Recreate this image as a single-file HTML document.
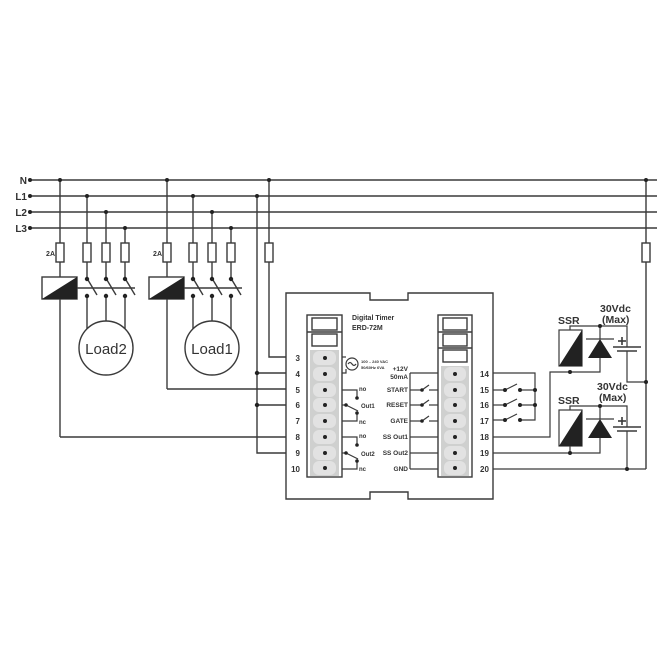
<!DOCTYPE html>
<html><head><meta charset="utf-8"><style>
html,body{margin:0;padding:0;background:#fff;}
svg{display:block;}
text{font-family:"Liberation Sans",sans-serif;fill:#333;font-weight:bold;}
</style></head><body>
<svg width="670" height="670" viewBox="0 0 670 670" xmlns="http://www.w3.org/2000/svg">
<g stroke="#3a3a3a" stroke-width="1.4" fill="none">
<!-- bus -->
<line x1="30" y1="180" x2="657" y2="180"/>
<line x1="30" y1="196" x2="657" y2="196"/>
<line x1="30" y1="212" x2="657" y2="212"/>
<line x1="30" y1="228" x2="657" y2="228"/>
<!-- contactor 2 -->
<line x1="60" y1="180" x2="60" y2="277"/>
<line x1="60" y1="299" x2="60" y2="437"/>
<line x1="60" y1="437" x2="286" y2="437"/>
<line x1="87" y1="196" x2="87" y2="279"/>
<line x1="106" y1="212" x2="106" y2="279"/>
<line x1="125" y1="228" x2="125" y2="279"/>
<rect x="42" y="277" width="35" height="22" fill="#fff"/>
<line x1="77" y1="288" x2="135" y2="288"/>
<line x1="88" y1="280" x2="97" y2="295"/>
<line x1="107" y1="280" x2="116" y2="295"/>
<line x1="126" y1="280" x2="135" y2="295"/>
<line x1="87" y1="296" x2="87" y2="338"/>
<line x1="106" y1="296" x2="106" y2="321"/>
<line x1="125" y1="296" x2="125" y2="338"/>
<circle cx="106" cy="348" r="27" fill="#fff"/>
<!-- contactor 1 -->
<line x1="167" y1="180" x2="167" y2="277"/>
<line x1="167" y1="299" x2="167" y2="389"/>
<line x1="167" y1="389" x2="286" y2="389"/>
<line x1="193" y1="196" x2="193" y2="279"/>
<line x1="212" y1="212" x2="212" y2="279"/>
<line x1="231" y1="228" x2="231" y2="279"/>
<rect x="149" y="277" width="35" height="22" fill="#fff"/>
<line x1="184" y1="288" x2="242" y2="288"/>
<line x1="194" y1="280" x2="203" y2="295"/>
<line x1="213" y1="280" x2="222" y2="295"/>
<line x1="232" y1="280" x2="241" y2="295"/>
<line x1="193" y1="296" x2="193" y2="338"/>
<line x1="212" y1="296" x2="212" y2="321"/>
<line x1="231" y1="296" x2="231" y2="338"/>
<circle cx="212" cy="348" r="27" fill="#fff"/>
<!-- L1 to terminals 4,6,9 -->
<polyline points="257,196 257,453 286,453"/>
<line x1="257" y1="373" x2="286" y2="373"/>
<line x1="257" y1="405" x2="286" y2="405"/>
<!-- N to terminal 3 -->
<polyline points="269,180 269,357 286,357"/>
<!-- fuses -->
<g fill="#fff">
<rect x="56" y="243" width="8" height="19"/><rect x="83" y="243" width="8" height="19"/><rect x="102" y="243" width="8" height="19"/><rect x="121" y="243" width="8" height="19"/>
<rect x="163" y="243" width="8" height="19"/><rect x="189" y="243" width="8" height="19"/><rect x="208" y="243" width="8" height="19"/><rect x="227" y="243" width="8" height="19"/>
<rect x="265" y="243" width="8" height="19"/>
</g>
<!-- right vertical -->
<line x1="646" y1="180" x2="646" y2="469"/>
<rect x="642" y="243" width="8" height="19" fill="#fff"/>
<!-- box -->
<path d="M286,293 H370 V300 H408 V293 H493 V499 H408 V492 H370 V499 H286 Z"/>
<!-- left terminal block -->
<rect x="307" y="315" width="35" height="162"/>
<rect x="312" y="318" width="25" height="12"/><rect x="312" y="334" width="25" height="12"/>
<line x1="307" y1="332" x2="342" y2="332"/>
<rect x="438" y="315" width="34" height="162"/>
<rect x="443" y="318" width="24" height="12"/><rect x="443" y="334" width="24" height="12"/><rect x="443" y="350" width="24" height="12"/>
<line x1="438" y1="332" x2="472" y2="332"/><line x1="438" y1="348" x2="472" y2="348"/>
</g>
<!-- grey terminals -->
<g fill="#cfd0cf">
<rect x="310" y="350" width="29" height="126"/>
<rect x="441" y="366" width="28" height="110"/>
</g>
<g fill="#e2e2e2">
<rect x="313" y="351" width="23" height="14" rx="6"/><rect x="313" y="367" width="23" height="14" rx="6"/><rect x="313" y="383" width="23" height="14" rx="6"/><rect x="313" y="398" width="23" height="14" rx="6"/><rect x="313" y="414" width="23" height="14" rx="6"/><rect x="313" y="430" width="23" height="14" rx="6"/><rect x="313" y="446" width="23" height="14" rx="6"/><rect x="313" y="461" width="23" height="14" rx="6"/>
<rect x="444" y="367" width="22" height="14" rx="6"/><rect x="444" y="383" width="22" height="14" rx="6"/><rect x="444" y="398" width="22" height="14" rx="6"/><rect x="444" y="414" width="22" height="14" rx="6"/><rect x="444" y="430" width="22" height="14" rx="6"/><rect x="444" y="446" width="22" height="14" rx="6"/><rect x="444" y="461" width="22" height="14" rx="6"/>
</g>
<g fill="#222">
<circle cx="325" cy="358" r="2"/><circle cx="325" cy="374" r="2"/><circle cx="325" cy="390" r="2"/><circle cx="325" cy="405" r="2"/><circle cx="325" cy="421" r="2"/><circle cx="325" cy="437" r="2"/><circle cx="325" cy="453" r="2"/><circle cx="325" cy="468" r="2"/>
<circle cx="455" cy="374" r="2"/><circle cx="455" cy="390" r="2"/><circle cx="455" cy="405" r="2"/><circle cx="455" cy="421" r="2"/><circle cx="455" cy="437" r="2"/><circle cx="455" cy="453" r="2"/><circle cx="455" cy="468" r="2"/>
</g>
<g stroke="#3a3a3a" stroke-width="1.2" fill="none">
<!-- AC -->
<polyline points="342,357 346,357"/>
<circle cx="352" cy="364" r="6" fill="#fff"/>
<path d="M348,364 q2,-3 4,0 q2,3 4,0"/>
<polyline points="342,373 346,373 346,369"/>
<!-- Out1 -->
<polyline points="342,390 357,390 357,398"/>
<line x1="342" y1="405" x2="346" y2="405"/><line x1="346" y1="405" x2="358" y2="411"/>
<polyline points="342,421 357,421 357,413"/>
<!-- Out2 -->
<polyline points="342,437 357,437 357,445"/>
<line x1="342" y1="453" x2="346" y2="453"/><line x1="346" y1="453" x2="358" y2="459"/>
<polyline points="342,469 357,469 357,461"/>
<!-- right inner -->
<line x1="410" y1="373" x2="410" y2="469"/>
<line x1="410" y1="373" x2="438" y2="373"/>
<line x1="410" y1="390" x2="422" y2="390"/><line x1="422" y1="390" x2="429" y2="385"/><line x1="429" y1="390" x2="438" y2="390"/>
<line x1="410" y1="405" x2="422" y2="405"/><line x1="422" y1="405" x2="429" y2="400"/><line x1="429" y1="405" x2="438" y2="405"/>
<line x1="410" y1="421" x2="422" y2="421"/><line x1="422" y1="421" x2="429" y2="416"/><line x1="429" y1="421" x2="438" y2="421"/>
<line x1="410" y1="437" x2="438" y2="437"/><line x1="410" y1="453" x2="438" y2="453"/><line x1="410" y1="469" x2="438" y2="469"/>
<!-- right external -->
<polyline points="493,373 535,373 535,420 520,420"/>
<line x1="493" y1="390" x2="505" y2="390"/><line x1="505" y1="390" x2="517" y2="384"/><line x1="520" y1="390" x2="535" y2="390"/>
<line x1="493" y1="405" x2="505" y2="405"/><line x1="505" y1="405" x2="517" y2="399"/><line x1="520" y1="405" x2="535" y2="405"/>
<line x1="493" y1="420" x2="505" y2="420"/><line x1="505" y1="420" x2="517" y2="414"/>
<polyline points="493,437 550,437 550,372 600,372 600,358"/>
<polyline points="570,366 570,326 627,326 627,347"/>
<line x1="600" y1="326" x2="600" y2="339"/>
<polyline points="627,351 627,382 646,382"/>
<polyline points="493,453 600,453 600,438"/>
<line x1="570" y1="446" x2="570" y2="453"/>
<polyline points="570,410 570,406 627,406 627,427"/>
<line x1="600" y1="406" x2="600" y2="419"/>
<polyline points="627,431 627,469"/>
<line x1="493" y1="469" x2="646" y2="469"/>
<rect x="559" y="330" width="23" height="36" fill="#fff"/>
<rect x="559" y="410" width="23" height="36" fill="#fff"/>
<line x1="586" y1="339" x2="614" y2="339"/><line x1="586" y1="419" x2="614" y2="419"/>
<line x1="613" y1="347" x2="641" y2="347" stroke-width="1.6"/><line x1="617" y1="351" x2="637" y2="351" stroke-width="1.6"/>
<line x1="613" y1="427" x2="641" y2="427" stroke-width="1.6"/><line x1="617" y1="431" x2="637" y2="431" stroke-width="1.6"/>
<line x1="618" y1="341" x2="626" y2="341" stroke-width="1.6"/><line x1="622" y1="337" x2="622" y2="345" stroke-width="1.6"/>
<line x1="618" y1="421" x2="626" y2="421" stroke-width="1.6"/><line x1="622" y1="417" x2="622" y2="425" stroke-width="1.6"/>
</g>
<!-- filled triangles -->
<g fill="#222">
<polygon points="77,277 77,299 42,299"/>
<polygon points="184,277 184,299 149,299"/>
<polygon points="582,330 582,366 559,366"/>
<polygon points="582,410 582,446 559,446"/>
<polygon points="600,339 588,358 612,358"/>
<polygon points="600,419 588,438 612,438"/>
<!-- dots -->
<circle cx="30" cy="180" r="2"/><circle cx="30" cy="196" r="2"/><circle cx="30" cy="212" r="2"/><circle cx="30" cy="228" r="2"/>
<circle cx="60" cy="180" r="2"/><circle cx="87" cy="196" r="2"/><circle cx="106" cy="212" r="2"/><circle cx="125" cy="228" r="2"/>
<circle cx="167" cy="180" r="2"/><circle cx="193" cy="196" r="2"/><circle cx="212" cy="212" r="2"/><circle cx="231" cy="228" r="2"/>
<circle cx="257" cy="196" r="2"/><circle cx="269" cy="180" r="2"/><circle cx="646" cy="180" r="2"/>
<circle cx="87" cy="279" r="2.2"/><circle cx="106" cy="279" r="2.2"/><circle cx="125" cy="279" r="2.2"/>
<circle cx="87" cy="296" r="2.2"/><circle cx="106" cy="296" r="2.2"/><circle cx="125" cy="296" r="2.2"/>
<circle cx="193" cy="279" r="2.2"/><circle cx="212" cy="279" r="2.2"/><circle cx="231" cy="279" r="2.2"/>
<circle cx="193" cy="296" r="2.2"/><circle cx="212" cy="296" r="2.2"/><circle cx="231" cy="296" r="2.2"/>
<circle cx="257" cy="373" r="2.2"/><circle cx="257" cy="405" r="2.2"/>
<circle cx="357" cy="398" r="1.8"/><circle cx="346" cy="405" r="1.8"/><circle cx="357" cy="413" r="1.8"/>
<circle cx="357" cy="445" r="1.8"/><circle cx="346" cy="453" r="1.8"/><circle cx="357" cy="461" r="1.8"/>
<circle cx="422" cy="390" r="1.8"/><circle cx="422" cy="405" r="1.8"/><circle cx="422" cy="421" r="1.8"/>
<circle cx="505" cy="390" r="2"/><circle cx="520" cy="390" r="2"/><circle cx="535" cy="390" r="2"/>
<circle cx="505" cy="405" r="2"/><circle cx="520" cy="405" r="2"/><circle cx="535" cy="405" r="2"/>
<circle cx="505" cy="420" r="2"/><circle cx="520" cy="420" r="2"/>
<circle cx="570" cy="372" r="2"/><circle cx="600" cy="326" r="2"/><circle cx="646" cy="382" r="2"/>
<circle cx="570" cy="453" r="2"/><circle cx="600" cy="406" r="2"/><circle cx="627" cy="469" r="2"/>
</g>
<!-- text -->
<g font-size="10">
<text x="27" y="184" text-anchor="end">N</text>
<text x="27" y="200" text-anchor="end">L1</text>
<text x="27" y="216" text-anchor="end">L2</text>
<text x="27" y="232" text-anchor="end">L3</text>
</g>
<text x="55" y="256" font-size="7" text-anchor="end">2A</text>
<text x="162" y="256" font-size="7" text-anchor="end">2A</text>
<text x="106" y="354" font-size="15" text-anchor="middle" style="font-weight:normal">Load2</text>
<text x="212" y="354" font-size="15" text-anchor="middle" style="font-weight:normal">Load1</text>
<text x="352" y="320" font-size="7">Digital Timer</text>
<text x="352" y="330" font-size="7">ERD-72M</text>
<text x="361" y="363" font-size="4">100 .. 240 VAC</text>
<text x="361" y="369" font-size="4">50/60Hz 6VA</text>
<g font-size="8" text-anchor="end">
<text x="300" y="361">3</text><text x="300" y="377">4</text><text x="300" y="393">5</text><text x="300" y="408">6</text><text x="300" y="424">7</text><text x="300" y="440">8</text><text x="300" y="456">9</text><text x="300" y="472">10</text>
</g>
<g font-size="8">
<text x="480" y="377">14</text><text x="480" y="393">15</text><text x="480" y="408">16</text><text x="480" y="424">17</text><text x="480" y="440">18</text><text x="480" y="456">19</text><text x="480" y="472">20</text>
</g>
<g font-size="6">
<text x="359" y="391">no</text><text x="361" y="408">Out1</text><text x="359" y="424">nc</text>
<text x="359" y="438">no</text><text x="361" y="456">Out2</text><text x="359" y="471">nc</text>
</g>
<g font-size="6.5" text-anchor="end">
<text x="408" y="371">+12V</text><text x="408" y="379">50mA</text>
<text x="408" y="392">START</text><text x="408" y="407">RESET</text><text x="408" y="423">GATE</text>
<text x="408" y="439">SS Out1</text><text x="408" y="455">SS Out2</text><text x="408" y="471">GND</text>
</g>
<g font-size="10.5" style="font-weight:normal">
<text x="558" y="324">SSR</text><text x="558" y="404">SSR</text>
<text x="600" y="312">30Vdc</text><text x="602" y="323">(Max)</text>
<text x="597" y="390">30Vdc</text><text x="599" y="401">(Max)</text>
</g>
</svg>
</body></html>
